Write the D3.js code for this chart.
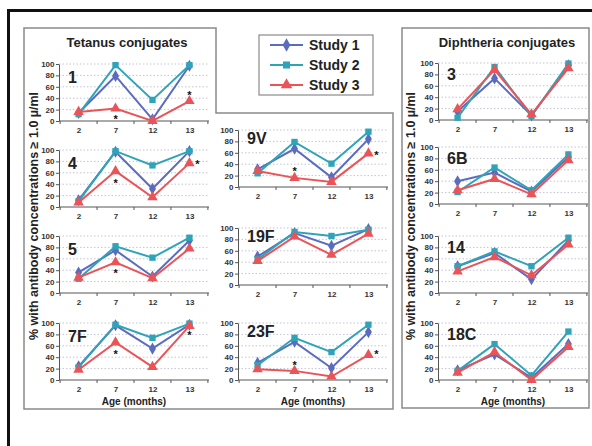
<!DOCTYPE html>
<html>
<head>
<meta charset="utf-8">
<script src="https://cdn.jsdelivr.net/npm/d3@7"></script>
<style>
  body { margin: 0; background: #fff; }
  svg { display: block; }
  text { font-family: Arial, "Liberation Sans", sans-serif; }
</style>
</head>
<body>
<div id="chart"></div>
<script>
// ages on the x axis and the three studies
var ages = ["2", "7", "12", "13"];
var studies = ["Study 1", "Study 2", "Study 3"];

// serotypes, in the order the rows below use
var serotypes = ["1", "4", "5", "7F", "9V", "19F", "23F", "3", "6B", "14", "18C"];
var tetanusGroup = ["1", "4", "5", "7F"];
var middleGroup = ["9V", "19F", "23F"];
var diphtheriaGroup = ["3", "6B", "14", "18C"];

// % with antibody >= 1.0, one row per serotype (ages 2, 7, 12, 13)
var study1 = [[14, 79, 3, 97], [12, 97, 32, 98], [36, 75, 29, 92], [24, 96, 55, 97],
              [31, 67, 17, 84], [50, 91, 69, 98], [30, 67, 21, 84],
              [15, 73, 8, 96], [40, 55, 22, 82], [47, 70, 24, 92], [17, 45, 4, 63]];
var study2 = [[12, 98, 37, 98], [10, 98, 73, 98], [25, 82, 62, 97], [22, 97, 74, 99],
              [24, 79, 41, 97], [45, 93, 86, 97], [26, 74, 49, 97],
              [4, 93, 7, 99], [21, 64, 24, 87], [47, 73, 47, 97], [16, 63, 8, 85]];
var study3 = [[16, 22, 0, 35], [8, 63, 17, 77], [27, 54, 26, 78], [18, 66, 23, 95],
              [28, 16, 9, 59], [42, 85, 53, 90], [19, 16, 6, 44],
              [19, 88, 10, 91], [24, 44, 17, 77], [38, 63, 31, 85], [13, 49, 0, 58]];

var yTicks = [0, 20, 40, 60, 80, 100];

// significance marks: serotype, age, level
var asterisks = [["1", "7", 7], ["1", "13", 49], ["4", "7", 45], ["4", "13", 79],
                 ["5", "7", 38], ["7F", "7", 50], ["7F", "13", 82],
                 ["9V", "7", 31], ["9V", "13", 59], ["23F", "7", 30], ["23F", "13", 49]];

var colors = ["#5b6cbf", "#2fa3b8", "#ea5458"];
var shapes = [d3.symbolDiamond, d3.symbolSquare, d3.symbolTriangle];
var shapeSize = [42, 40, 48];
var series = [study1, study2, study3];

var W = 592, H = 446;
var svg = d3.select("#chart").append("svg")
  .attr("width", W).attr("height", H);

// black outer frame (runs off the right and bottom edge)
svg.append("rect")
  .attr("x", 8.5).attr("y", 10.5).attr("width", 620).attr("height", 460)
  .attr("fill", "none").attr("stroke", "#111").attr("stroke-width", 3);

// grey group outlines
svg.append("path")
  .attr("d", "M24,28 H216 V113 H393 V409 H24 Z")
  .attr("fill", "none").attr("stroke", "#8a8a8a").attr("stroke-width", 1.5);
svg.append("rect")
  .attr("x", 402).attr("y", 28).attr("width", 187).attr("height", 380)
  .attr("fill", "none").attr("stroke", "#8a8a8a").attr("stroke-width", 1.5);

// titles
svg.append("text").attr("x", 127).attr("y", 47).attr("text-anchor", "middle")
  .style("font-size", "13px").style("font-weight", "bold").attr("fill", "#222")
  .text("Tetanus conjugates");
svg.append("text").attr("x", 507).attr("y", 47).attr("text-anchor", "middle")
  .style("font-size", "13px").style("font-weight", "bold").attr("fill", "#222")
  .text("Diphtheria conjugates");

// y axis titles
[[38, 216], [415, 216]].forEach(function (p) {
  svg.append("text")
    .attr("transform", "translate(" + p[0] + "," + p[1] + ") rotate(-90)")
    .attr("text-anchor", "middle")
    .style("font-size", "12.5px").style("font-weight", "bold").attr("fill", "#222")
    .text("% with antibody concentrations \u2265 1.0 \u00b5/ml");
});

// legend
var legend = svg.append("g");
legend.append("rect")
  .attr("x", 259).attr("y", 35).attr("width", 114).attr("height", 60)
  .attr("fill", "#fff").attr("stroke", "#8a8a8a").attr("stroke-width", 1.2);
studies.forEach(function (s, i) {
  var ly = 45 + i * 20;
  legend.append("line").attr("x1", 270).attr("x2", 303).attr("y1", ly).attr("y2", ly)
    .attr("stroke", colors[i]).attr("stroke-width", 2);
  legend.append("path").attr("transform", "translate(286.5," + ly + ")")
    .attr("d", d3.symbol().type(shapes[i]).size(shapeSize[i] + 10)())
    .attr("fill", colors[i]);
  legend.append("text").attr("x", 309).attr("y", ly + 5)
    .style("font-size", "14px").style("font-weight", "bold").attr("fill", "#222")
    .text(s);
});

// panel layout per column
var columns = [
  { members: tetanusGroup, x0: 59, zeros: [121, 207, 293, 380], labelDy: -38 },
  { members: middleGroup, x0: 238, zeros: [187, 285, 380], labelDy: -43 },
  { members: diphtheriaGroup, x0: 438, zeros: [120, 204, 293, 380], labelDy: -40 }
];
var plotW = 150, plotH = 57;

columns.forEach(function (col) {
  col.members.forEach(function (name, r) {
    var zero = col.zeros[r];
    var idx = serotypes.indexOf(name);
    var x = d3.scalePoint().domain(ages).range([col.x0, col.x0 + plotW]).padding(0.53);
    var y = d3.scaleLinear().domain([0, 100]).range([zero, zero - plotH]);
    var g = svg.append("g");

    // dotted grid
    g.selectAll(".grid").data(yTicks.slice(1)).enter().append("line")
      .attr("x1", col.x0).attr("x2", col.x0 + plotW)
      .attr("y1", function (d) { return y(d); }).attr("y2", function (d) { return y(d); })
      .attr("stroke", "#c4c4d6").attr("stroke-width", 1).attr("stroke-dasharray", "1.5,2");

    // y axis
    var ya = g.append("g").attr("transform", "translate(" + col.x0 + ",0)")
      .call(d3.axisLeft(y).tickValues(yTicks).tickSize(3).tickSizeOuter(0).tickPadding(1.5));
    ya.selectAll("text").style("font-size", "8px").style("font-weight", "bold").attr("fill", "#333");
    ya.selectAll("line, path").attr("stroke", "#555");

    // x axis
    var xa = g.append("g").attr("transform", "translate(0," + zero + ")")
      .call(d3.axisBottom(x).tickSize(0).tickPadding(6));
    xa.select(".domain").attr("d", "M" + col.x0 + ",0H" + (col.x0 + plotW)).attr("stroke", "#555");
    xa.selectAll("text").style("font-size", "8px").style("font-weight", "bold").attr("fill", "#333");
    var step = x.step();
    var bounds = ages.map(function (a) { return x(a) + step / 2; });
    bounds.unshift(x(ages[0]) - step / 2);
    g.selectAll(".xt").data(bounds).enter().append("line")
      .attr("x1", function (d) { return d; }).attr("x2", function (d) { return d; })
      .attr("y1", zero).attr("y2", zero + 3).attr("stroke", "#555");

    // lines and markers
    series.forEach(function (rows, si) {
      var vals = rows[idx];
      var line = d3.line()
        .x(function (d, i) { return x(ages[i]); })
        .y(function (d) { return y(d); });
      g.append("path").datum(vals).attr("d", line)
        .attr("fill", "none").attr("stroke", colors[si]).attr("stroke-width", 2);
      g.selectAll(".m" + si).data(vals).enter().append("path")
        .attr("transform", function (d, i) { return "translate(" + x(ages[i]) + "," + y(d) + ")"; })
        .attr("d", d3.symbol().type(shapes[si]).size(shapeSize[si])())
        .attr("fill", colors[si]);
    });

    // asterisks
    asterisks.filter(function (a) { return a[0] === name; }).forEach(function (a) {
      var ai = ages.indexOf(a[1]);
      var red = study3[idx][ai];
      var dx = Math.abs(a[2] - red) < 8 ? 8 : 0;
      g.append("text").attr("x", x(a[1]) + dx).attr("y", y(a[2]) + 6)
        .attr("text-anchor", "middle")
        .style("font-size", "11px").style("font-weight", "bold").attr("fill", "#111")
        .text("*");
    });

    // serotype label
    g.append("text").attr("x", col.x0 + 9).attr("y", zero + col.labelDy)
      .style("font-size", "16px").style("font-weight", "bold").attr("fill", "#222")
      .text(name);
  });

  // x axis title
  svg.append("text").attr("x", col.x0 + plotW / 2).attr("y", 405)
    .attr("text-anchor", "middle")
    .style("font-size", "10px").style("font-weight", "bold").attr("fill", "#222")
    .text("Age (months)");
});
</script>
</body>
</html>
